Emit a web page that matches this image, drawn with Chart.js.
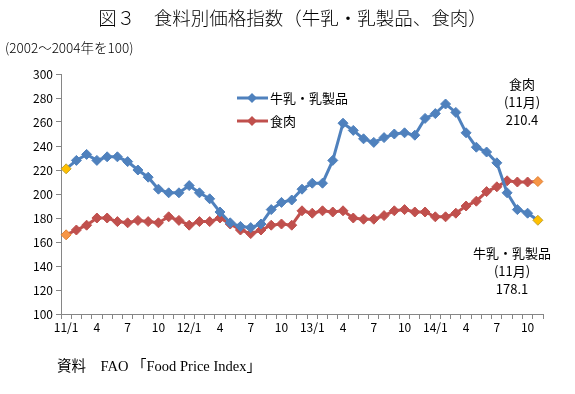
<!DOCTYPE html>
<html>
<head>
<meta charset="utf-8">
<script src="https://cdn.jsdelivr.net/npm/chart.js@4"></script>
<style>
  body { margin: 0; background: #fff; }
  #wrap { position: relative; width: 575px; height: 394px; font-family: "Noto Sans CJK JP", sans-serif; color: #000; }
  #wrap canvas { position: absolute; left: 0; top: 0; }
  .txt { position: absolute; white-space: nowrap; line-height: 1; }
  .note { position: absolute; text-align: center; font-size: 13px; line-height: 18px; white-space: nowrap; }
</style>
</head>
<body>
<div id="wrap">
  <canvas id="chart" width="575" height="394"></canvas>
  <div class="txt" style="left:0;width:585px;text-align:center;top:8px;font-size:18.5px;font-weight:300;">図３　食料別価格指数（牛乳・乳製品、食肉）</div>
  <div class="txt" style="left:5px;top:41px;font-size:13.5px;font-weight:300;">(2002～2004年を100)</div>
  <div class="note" style="left:482px;top:75px;width:80px;">食肉<br>(11月)<br>210.4</div>
  <div class="note" style="left:462px;top:244px;width:100px;">牛乳・乳製品<br>(11月)<br>178.1</div>
  <div class="txt" style="left:57px;top:359px;font-size:14.5px;font-family:'Liberation Serif','Noto Sans CJK JP',serif;">資料　FAO 「Food Price Index」</div>
</div>
<script>
// months 2011/1 - 2014/11
var months = [];
for (var y = 11; y <= 14; y++) {
    for (var m = 1; m <= 12; m++) {
        if (y == 14 && m > 11) break;
        months.push(y + '/' + m);
    }
}

var milk = [221, 228, 233, 228, 231, 231, 227, 220, 214, 204, 201, 201,
            207, 201, 196, 185, 176, 173, 172, 175, 187, 193, 195, 204,
            209, 209, 228, 259, 253, 246, 243, 247, 250, 251, 249, 263,
            267, 275, 268, 251, 239, 235, 226, 201, 187, 184, 178.1];

var meat = [166, 170, 174, 180, 180, 177, 176, 178, 177, 176, 181, 178,
            174, 177, 177, 180, 175, 170, 167, 170, 174, 175, 174, 186,
            184, 186, 185, 186, 180, 179, 179, 182, 186, 187, 185, 185,
            181, 181, 184, 190, 194, 202, 206, 211, 210, 210, 210.4];

var yTicks = [100, 120, 140, 160, 180, 200, 220, 240, 260, 280, 300];

function pointColors(base, ends) {
    return months.map(function (x, i) {
        return (i == 0 || i == months.length - 1) ? ends : base;
    });
}

var blue = '#4F81BD', red = '#C0504D';

// legend drawn inside the plot, like the original
var legendPlugin = {
    id: 'innerLegend',
    afterDraw: function (chart) {
        var ctx = chart.ctx;
        var items = [['牛乳・乳製品', blue, 98], ['食肉', red, 121]];
        items.forEach(function (it) {
            ctx.save();
            ctx.strokeStyle = it[1];
            ctx.lineWidth = 3;
            ctx.beginPath();
            ctx.moveTo(237, it[2]);
            ctx.lineTo(268, it[2]);
            ctx.stroke();
            ctx.fillStyle = it[1];
            ctx.beginPath();
            ctx.moveTo(252, it[2] - 5);
            ctx.lineTo(257, it[2]);
            ctx.lineTo(252, it[2] + 5);
            ctx.lineTo(247, it[2]);
            ctx.closePath();
            ctx.fill();
            ctx.fillStyle = '#000';
            ctx.font = '13px "Noto Sans CJK JP"';
            ctx.textBaseline = 'middle';
            ctx.fillText(it[0], 270, it[2]);
            ctx.restore();
        });
    }
};

new Chart(document.getElementById('chart'), {
    type: 'line',
    data: {
        labels: months,
        datasets: [{
            label: '牛乳・乳製品',
            data: milk,
            borderColor: blue,
            borderWidth: 3,
            pointStyle: 'rectRot',
            pointRadius: 5,
            pointBorderWidth: 1,
            pointBackgroundColor: pointColors(blue, '#FFC000'),
            pointBorderColor: pointColors(blue, '#C0A030'),
            tension: 0
        }, {
            label: '食肉',
            data: meat,
            borderColor: red,
            borderWidth: 3,
            pointStyle: 'rectRot',
            pointRadius: 5,
            pointBorderWidth: 1,
            pointBackgroundColor: pointColors(red, '#F79646'),
            pointBorderColor: pointColors(red, '#E08030'),
            tension: 0
        }]
    },
    options: {
        responsive: false,
        animation: false,
        layout: { padding: { left: 0, right: 32, top: 74, bottom: 55 } },
        plugins: { legend: { display: false }, tooltip: { enabled: false } },
        scales: {
            x: {
                offset: true,
                grid: { offset: true, drawOnChartArea: false, color: '#868686', tickLength: 5 },
                border: { color: '#868686', width: 1 },
                ticks: {
                    autoSkip: false,
                    maxRotation: 0,
                    color: '#000',
                    padding: 1,
                    font: { family: 'Noto Sans CJK JP', size: 12 },
                    callback: function (v, i) {
                        if (i % 3 != 0) return '';
                        var p = months[i].split('/');
                        return p[1] == '1' ? months[i] : p[1];
                    }
                },
                afterFit: function (s) { s.height = 25; }
            },
            y: {
                min: 100,
                max: 300,
                afterBuildTicks: function (s) { s.ticks = yTicks.map(function (v) { return { value: v }; }); },
                grid: { drawOnChartArea: false, color: '#868686', tickLength: 5 },
                border: { color: '#868686', width: 1 },
                ticks: {
                    color: '#000',
                    padding: 3,
                    font: { family: 'Noto Sans CJK JP', size: 12 }
                },
                afterFit: function (s) { s.width = 61; }
            }
        }
    },
    plugins: [legendPlugin]
});
</script>
</body>
</html>
